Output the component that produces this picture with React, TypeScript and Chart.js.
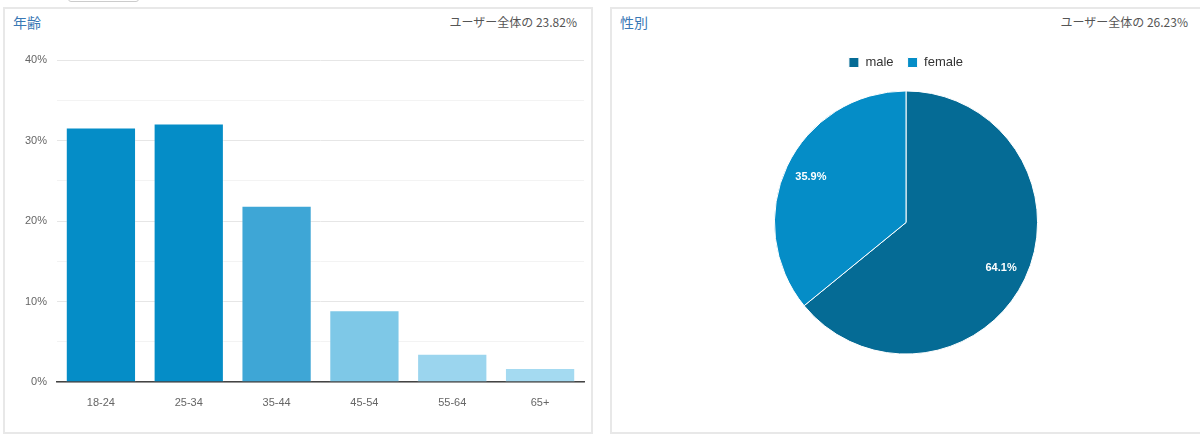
import { useRef, useEffect } from 'react'
import { Chart, registerables, Plugin } from 'chart.js'

Chart.register(...registerables)

const AGE_LABELS = ['18-24', '25-34', '35-44', '45-54', '55-64', '65+']
const AGE_VALUES = [31.6, 32.1, 21.9, 8.9, 3.5, 1.75]
const AGE_COLOURS = ['#058dc7', '#058dc7', '#3ea6d6', '#7ec8e7', '#9bd5ee', '#a4daf1']

const GENDER_LABELS = ['male', 'female']
const GENDER_VALUES = [64.1, 35.9]
const GENDER_COLOURS = ['#056b95', '#058dc7']

const AGE_SHARE = 'ユーザー全体の 23.82%'
const GENDER_SHARE = 'ユーザー全体の 26.23%'

const SANS = "Arial, 'Liberation Sans', sans-serif"
const JP = "'Noto Sans CJK JP', 'Noto Sans', sans-serif"

// white percent labels on each slice
const sliceLabels: Plugin<'pie'> = {
  id: 'sliceLabels',
  afterDatasetsDraw(chart) {
    const { ctx } = chart
    const meta = chart.getDatasetMeta(0)
    const data = chart.data.datasets[0].data as number[]
    const total = data.reduce((a, b) => a + b, 0)
    ctx.save()
    ctx.fillStyle = '#fff'
    ctx.font = `bold 11px ${SANS}`
    ctx.textAlign = 'center'
    ctx.textBaseline = 'middle'
    meta.data.forEach((el: any, i) => {
      const { x, y, startAngle, endAngle, outerRadius } = el.getProps(['x', 'y', 'startAngle', 'endAngle', 'outerRadius'], true)
      const mid = (startAngle + endAngle) / 2
      const r = outerRadius * 0.8
      ctx.fillText(`${(data[i] / total * 100).toFixed(1)}%`, x + Math.cos(mid) * r, y + Math.sin(mid) * r)
    })
    ctx.restore()
  }
}

function AgeChart() {
  const canvasRef = useRef<HTMLCanvasElement>(null)
  const chartRef = useRef<Chart | null>(null)

  useEffect(() => {
    if (!canvasRef.current) return
    if (chartRef.current) chartRef.current.destroy()

    chartRef.current = new Chart(canvasRef.current, {
      type: 'bar',
      data: {
        labels: AGE_LABELS,
        datasets: [{
          data: AGE_VALUES,
          backgroundColor: AGE_COLOURS,
          borderColor: 'rgba(255,255,255,0.3)',
          borderWidth: 1,
          barPercentage: 0.8,
          categoryPercentage: 1,
        }]
      },
      options: {
        animation: false,
        responsive: false,
        layout: { padding: { top: 20, right: 8, left: 0, bottom: 0 } },
        plugins: { legend: { display: false }, tooltip: { enabled: false } },
        scales: {
          x: {
            grid: { display: false },
            border: { display: true, color: '#444', width: 1.5 },
            ticks: { color: '#666', font: { family: SANS, size: 11 }, padding: 6 },
            afterFit: (s: any) => { s.height = 30 },
          },
          y: {
            min: 0,
            max: 40,
            border: { display: false },
            grid: {
              drawTicks: false,
              color: (c: any) => (c.tick && c.tick.value % 10 === 0 ? '#e6e6e6' : '#f3f3f3'),
            },
            ticks: {
              stepSize: 5,
              padding: 10,
              color: '#666',
              font: { family: SANS, size: 11 },
              callback: (v: any) => (v % 10 === 0 ? `${v}%` : ''),
            },
            afterFit: (s: any) => { s.width = 57 },
          }
        }
      }
    })

    return () => { chartRef.current?.destroy() }
  }, [])

  return <canvas ref={canvasRef} width={592} height={372} style={{ position: 'absolute', left: 0, top: 40, width: 592, height: 372 }} />
}

function GenderChart() {
  const canvasRef = useRef<HTMLCanvasElement>(null)
  const chartRef = useRef<Chart | null>(null)

  useEffect(() => {
    if (!canvasRef.current) return
    if (chartRef.current) chartRef.current.destroy()

    chartRef.current = new Chart(canvasRef.current, {
      type: 'pie',
      data: {
        labels: GENDER_LABELS,
        datasets: [{
          data: GENDER_VALUES,
          backgroundColor: GENDER_COLOURS,
          borderColor: '#fff',
          borderWidth: 1,
          radius: '92%',
        }]
      },
      options: {
        animation: false,
        responsive: false,
        plugins: {
          tooltip: { enabled: false },
          legend: {
            position: 'top',
            labels: {
              boxWidth: 10,
              boxHeight: 10,
              padding: 14,
              color: '#333',
              font: { family: SANS, size: 13 },
            }
          }
        }
      },
      plugins: [sliceLabels]
    })

    return () => { chartRef.current?.destroy() }
  }, [])

  return <canvas ref={canvasRef} width={592} height={324} style={{ position: 'absolute', left: 610, top: 42, width: 592, height: 324 }} />
}

const panel = (left: number, width: number): React.CSSProperties => ({
  position: 'absolute', left, top: 7, width, height: 427,
  border: '2px solid #e8e8e8', background: '#fff', boxSizing: 'border-box',
})

const title: React.CSSProperties = {
  position: 'absolute', top: 3, left: 8, fontFamily: JP, fontSize: 14, color: '#3a78b5',
}

const share: React.CSSProperties = {
  position: 'absolute', top: 4, right: 14, fontFamily: JP, fontSize: 12, color: '#555',
}

export default function App() {
  return (
    <div style={{ position: 'absolute', left: 0, top: 0, width: 1200, height: 441, overflow: 'hidden', background: '#fff' }}>
      <div style={{ position: 'absolute', left: 68, top: -20, width: 71, height: 22, border: '1px solid #ccc', borderRadius: 3, boxSizing: 'border-box' }} />
      <div style={panel(3, 590)}>
        <div style={title}>年齢</div>
        <div style={share}>{AGE_SHARE}</div>
      </div>
      <div style={panel(610, 594)}>
        <div style={title}>性別</div>
        <div style={share}>{GENDER_SHARE}</div>
      </div>
      <AgeChart />
      <GenderChart />
    </div>
  )
}
